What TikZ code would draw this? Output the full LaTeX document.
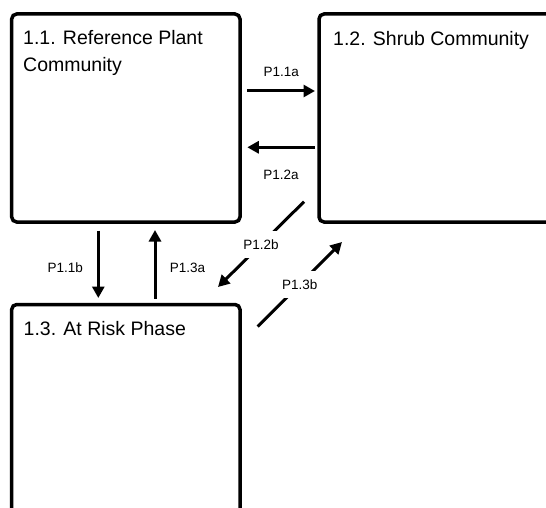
\documentclass[tikz,border=0pt]{standalone}
\usepackage{fontspec}
\setmainfont{Liberation Sans}
\usetikzlibrary{arrows.meta}
\begin{document}
\begin{tikzpicture}[x=1pt,y=-1pt,
  box/.style={draw, line width=3.5pt, rounded corners=5pt, inner sep=0pt, outer sep=0pt, anchor=north west},
  title/.style={anchor=base west, inner sep=0pt, align=left, font=\fontsize{19.5}{26.7}\selectfont},
  lbl/.style={inner sep=0pt, font=\fontsize{13.5}{16}\selectfont, text height=9.7pt, text depth=0pt},
  cut/.style={lbl, fill=white, inner xsep=3pt, inner ysep=8.5pt},
  arr/.style={line width=3pt, -{Triangle[length=11.5pt,width=12pt]}}]
\useasboundingbox (0,0) rectangle (546,508);
\clip (0,0) rectangle (546,508);
% boxes
\node[box, minimum width=228.3pt, minimum height=208pt] (b1) at (11.7,14) {};
\node[box, minimum width=240pt, minimum height=208pt] (b2) at (319,14) {};
\node[box, minimum width=228.3pt, minimum height=215pt] (b3) at (11.7,304.5) {};
% titles
\node[title] (t1) at (23,71.7) {1.1. Reference Plant\\Community};
\node[title] (t2) at (333,45.5) {1.2. Shrub Community};
\node[title] (t3) at (23.5,335) {1.3. At Risk Phase};
% connector ends
\coordinate (a1s) at (247.3,91);
\coordinate (a1e) at (315,91);
\coordinate (a2s) at (315,147.3);
\coordinate (a2e) at (247.3,147.3);
\coordinate (b1s) at (98.3,230.5);
\coordinate (b1e) at (98.3,298);
\coordinate (c1s) at (155,298.5);
\coordinate (c1e) at (155,230);
\coordinate (d1s) at (304,201.7);
\coordinate (d1e) at (218,287);
\coordinate (e1s) at (257.7,326.5);
\coordinate (e1e) at (342,242);
% connectors
\draw[arr] (a1s) -- (a1e);
\draw[arr] (a2s) -- (a2e);
\draw[arr] (b1s) -- (b1e);
\draw[arr] (c1s) -- (c1e);
\draw[arr] (d1s) -- node[cut] (l5) {P1.2b} (d1e);
\draw[arr] (e1s) -- node[cut] (l6) {P1.3b} (e1e);
% labels
\node[lbl] (l1) at (281.3,71.3) {P1.1a};
\node[lbl] (l2) at (281,175) {P1.2a};
\node[lbl] (l3) at (65.3,268) {P1.1b};
\node[lbl] (l4) at (187.5,268) {P1.3a};
\end{tikzpicture}
\end{document}
